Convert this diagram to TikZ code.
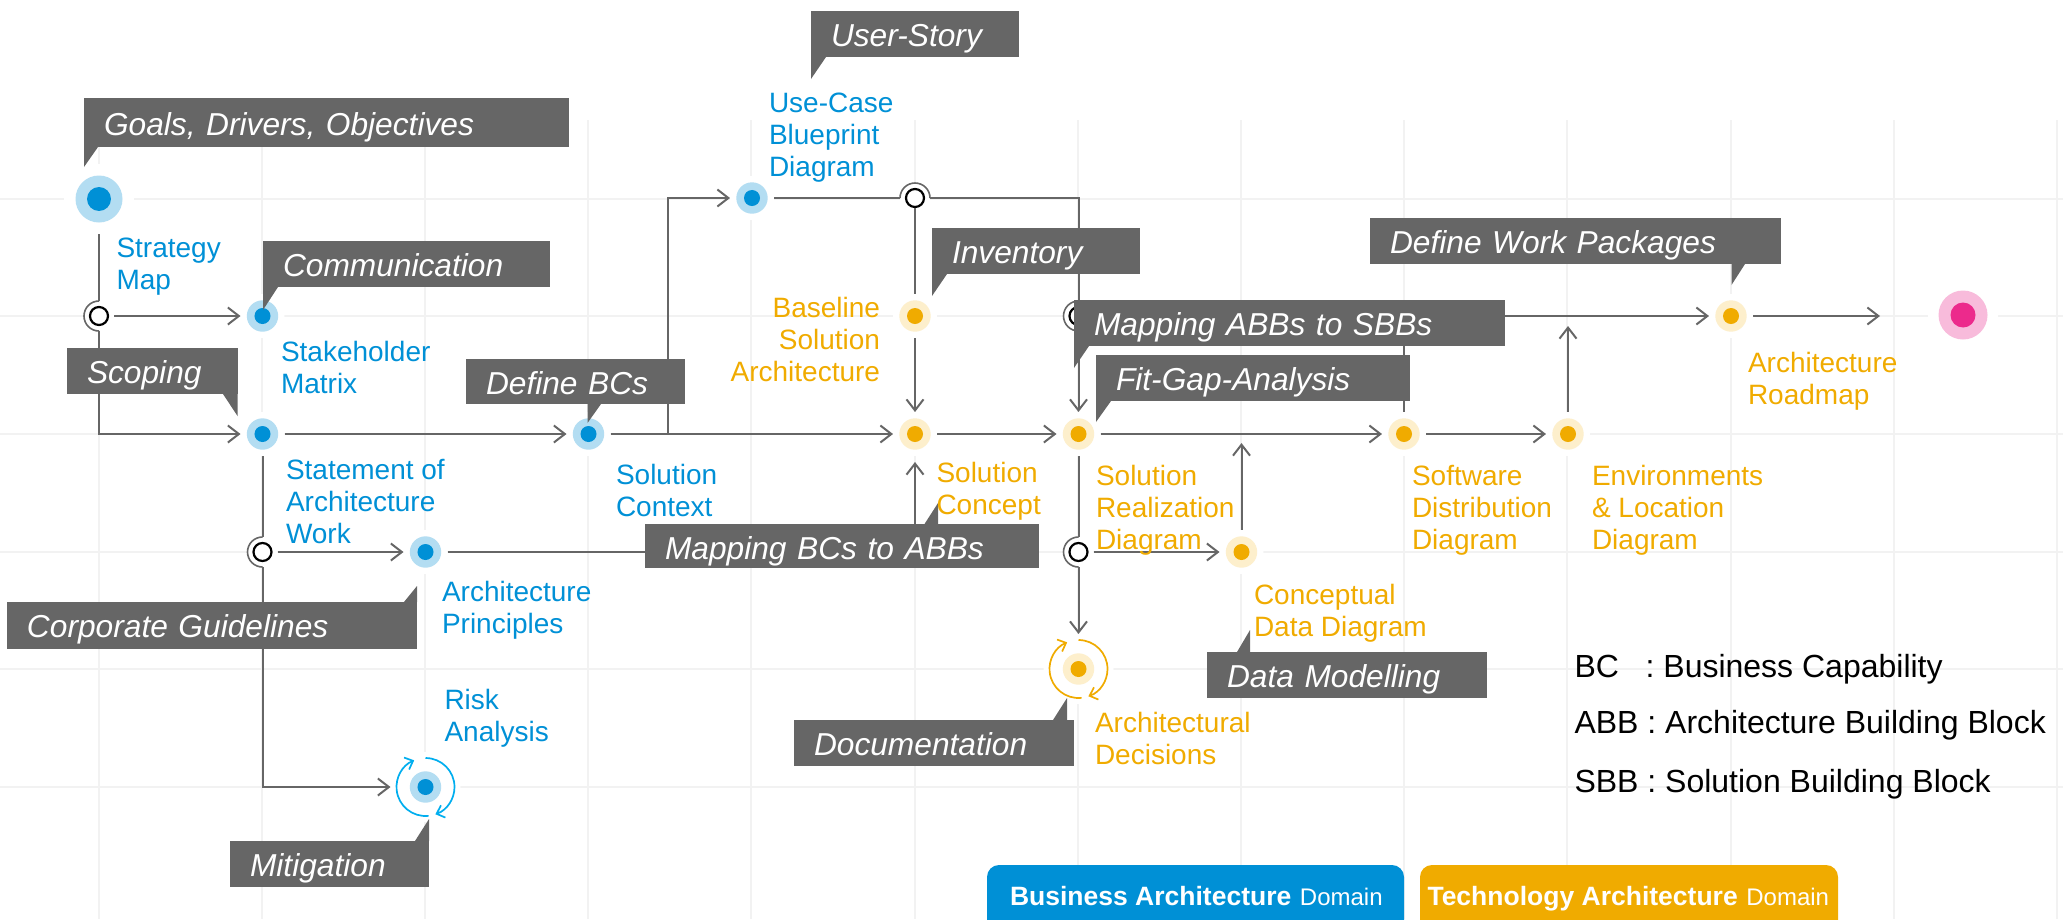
\documentclass[tikz,border=0pt]{standalone}
\usepackage{fontspec}
\setmainfont{Liberation Sans}
\usetikzlibrary{arrows.meta,calc}
\definecolor{gridc}{HTML}{F2F2F2}
\definecolor{conngray}{HTML}{666666}
\definecolor{bluei}{HTML}{0090D6}
\definecolor{blueo}{HTML}{B3DDF2}
\definecolor{orangei}{HTML}{F0AB00}
\definecolor{orangeo}{HTML}{FDEFCC}
\definecolor{pinki}{HTML}{EC2A8C}
\definecolor{pinko}{HTML}{F8BBDB}
\definecolor{cyanc}{HTML}{00AEEF}
\pgfdeclarelayer{gridlayer}
\pgfdeclarelayer{connlayer}
\pgfsetlayers{gridlayer,connlayer,main}
\newcommand{\callout}[7]{%
  \pgfmathsetmacro{\cbw}{#4-#2-40}%
  \pgfmathsetmacro{\cbd}{#5-#3-35}%
  \node[calloutbox,text width=\cbw pt,text depth=\cbd pt] (#1) at (#2,#3) {#6};
  \fill[conngray] #7 -- cycle;
}
\newcommand{\dotpic}[3]{%
  \fill[#1] (path picture bounding box.center) circle (#2);
  \fill[#3] (path picture bounding box.center) circle (#2*0.51);
}
\tikzset{
  gridline/.style={gridc,line width=1.5pt},
  conn/.style={conngray,line width=2pt},
  arr/.style={conn,-{Straight Barb[length=11pt,width=17pt]}},
  dotnode/.style={circle,inner sep=0pt,outer sep=0pt,minimum size=44pt,fill=white},
  bnode/.style={dotnode,path picture={\dotpic{blueo}{15.7pt}{bluei}}},
  onode/.style={dotnode,path picture={\dotpic{orangeo}{15.7pt}{orangei}}},
  snode/.style={dotnode,minimum size=70pt,path picture={\dotpic{blueo}{23.5pt}{bluei}}},
  pnode/.style={dotnode,minimum size=70pt,path picture={\dotpic{pinko}{24.5pt}{pinki}}},
  bcyc/.style={dotnode,minimum size=70pt,path picture={\dotpic{blueo}{15.7pt}{bluei}}},
  ocyc/.style={dotnode,minimum size=70pt,path picture={\dotpic{orangeo}{15.7pt}{orangei}}},
  jct/.style={circle,inner sep=0pt,outer sep=0pt,minimum size=30pt,fill=white},
  ringn/.style={circle,inner sep=0pt,minimum size=18pt,draw=black,fill=white,line width=2.2pt},
  lbl/.style={anchor=north west,inner sep=0pt,outer sep=0pt,align=left,yshift=22.4pt,font=\fontsize{28}{32}\selectfont},
  blab/.style={lbl,text=bluei},
  olab/.style={lbl,text=orangei},
  calloutbox/.style={anchor=north west,fill=conngray,text=white,inner xsep=20pt,inner ysep=0pt,outer sep=0pt,align=left,text height=35pt,font=\fontsize{31.7}{36}\selectfont\itshape},
  legendt/.style={anchor=base west,inner sep=0pt,outer sep=0pt,font=\fontsize{32}{36}\selectfont,text=black},
  domainbox/.style={anchor=north west,rounded corners=12pt,inner ysep=0pt,outer sep=0pt,text=white,text height=40pt,text depth=30pt,align=left},
  cyca/.style={line width=1.7pt,-{Straight Barb[length=7pt,width=13pt]}},
}
\begin{document}
\begin{tikzpicture}[x=1pt,y=-1pt]
\useasboundingbox (0,0) rectangle (2063,919);
% grid
\begin{pgfonlayer}{gridlayer}
\foreach \gx in {99,262,425,588,751,915,1078,1241,1404,1567,1731,1894,2057}
  \draw[gridline] (\gx,120) -- (\gx,919);
\foreach \gy in {199,316,434,552,669,787}
  \draw[gridline] (0,\gy) -- (2063,\gy);
\end{pgfonlayer}

% diagram nodes
\node[snode] (N1) at (99,199) {};
\node[bnode] (N2) at (262.5,316) {};
\node[bnode] (N3) at (262.5,434) {};
\node[bnode] (N4) at (588.5,434) {};
\node[bnode] (N5) at (752,198) {};
\node[onode] (N6) at (915,434) {};
\node[onode] (N7) at (1078.5,434) {};
\node[onode] (N8) at (915,316) {};
\node[onode] (N9) at (1404,434) {};
\node[onode] (N10) at (1568,434) {};
\node[ocyc] (N11) at (1078.5,669) {};
\node[onode] (N12) at (1241.5,552) {};
\node[onode] (N13) at (1731,316) {};
\node[bnode] (N14) at (425.5,552) {};
\node[bcyc] (N15) at (425.5,787) {};
\node[pnode] (End) at (1963,315) {};

% junctions
\node[jct] (J1) at (99,316) {};
\node[jct] (J2) at (915,198) {};
\node[jct] (J3) at (1078.5,316) {};
\node[jct] (J4) at (1078.5,552) {};
\node[jct] (J5) at (262.5,552) {};
\draw[conngray,line width=1.6pt] (J1.north) arc[start angle=90,end angle=270,radius=15pt];
\draw[conngray,line width=1.6pt] (J3.north) arc[start angle=90,end angle=270,radius=15pt];
\draw[conngray,line width=1.6pt] (J4.north) arc[start angle=90,end angle=270,radius=15pt];
\draw[conngray,line width=1.6pt] (J5.north) arc[start angle=90,end angle=270,radius=15pt];
\draw[conngray,line width=1.6pt] (J2.west) arc[start angle=180,end angle=0,radius=15pt];
\node[ringn] (R1) at (J1) {};
\node[ringn] (R2) at (J2) {};
\node[ringn] (R3) at (J3) {};
\node[ringn] (R4) at (J4) {};
\node[ringn] (R5) at (J5) {};

% free ends
\coordinate (B1) at (668,434);
\coordinate (T1) at (1404,316);
\coordinate (U1) at (1568,326);
\coordinate (U2) at (1241.5,443);

% connectors
\begin{pgfonlayer}{connlayer}
\draw[arr] (N1) |- (N3);
\draw[arr] (J1) -- (N2);
\draw[arr] (N3) -- (N4);
\draw[arr] (N3) |- (N15);
\draw[arr] (J5) -- (N14);
\draw[arr,shorten >=6pt] (N14) -| (N6);
\draw[arr] (N4) -- (N6);
\draw[arr] (B1) |- (N5);
\draw[arr] (N5) -| (N7);
\draw[arr] (N8) -- (N6);
\draw[arr] (N6) -- (N7);
\draw[arr] (N7) -- (N9);
\draw[arr] (N9) -- (N10);
\draw[conn] (N9) -- (T1);
\draw[arr] (N10) -- (U1);
\draw[arr] (J3) -- (N13);
\draw[arr,shorten >=83pt] (N13) -- (N13 -| End);
\draw[arr] (N7) -- (N11);
\draw[arr] (J4) -- (N12);
\draw[arr] (N12) -- (U2);
\end{pgfonlayer}
\draw[conn] (R2) -- (N8);

% cycle arrows
\draw[cyca,cyanc] ($(N15)+(276:29pt)$) arc[start angle=276,end angle=113,radius=29pt];
\draw[cyca,cyanc] ($(N15)+(90:29pt)$) arc[start angle=90,end angle=-70,radius=29pt];
\draw[cyca,orangei] ($(N11)+(276:29pt)$) arc[start angle=276,end angle=113,radius=29pt];
\draw[cyca,orangei] ($(N11)+(90:29pt)$) arc[start angle=90,end angle=-70,radius=29pt];

% callouts
\node[calloutbox,text width=445pt,text height=37pt,text depth=12pt] (cGoals) at (84,98) {Goals, Drivers, Objectives};
\fill[conngray] (84,147) -- (84,167) -- (98,147) -- cycle;
\callout{cComm}{263}{241}{550}{287}{Communication}{(263,287) -- (263,310) -- (278,287)}
\callout{cScope}{67}{348}{237.5}{394}{Scoping}{(223,394) -- (237.5,416) -- (237.5,394)}
\callout{cBCs}{466}{359}{685}{404}{Define BCs}{(587.5,404) -- (587.5,423) -- (601,404)}
\callout{cUser}{811}{11}{1019}{57}{User-Story}{(811,57) -- (811,79) -- (826,57)}
\callout{cInv}{932}{228}{1140}{274}{Inventory}{(932,274) -- (932,296) -- (947,274)}
\callout{cMapS}{1074}{300}{1505}{346}{Mapping ABBs to SBBs}{(1074,346) -- (1074,368) -- (1089,346)}
\callout{cFit}{1096}{355}{1410}{401}{Fit-Gap-Analysis}{(1096,401) -- (1096,422) -- (1111,401)}
\callout{cWork}{1370}{218}{1781}{264}{Define Work Packages}{(1731.5,264) -- (1731.5,285) -- (1745,264)}
\callout{cMapA}{645}{524}{1039}{568}{Mapping BCs to ABBs}{(924.5,524) -- (938,503) -- (938,524)}
\callout{cCorp}{7}{602}{417}{649}{Corporate Guidelines}{(404,602) -- (417,586) -- (417,602)}
\callout{cMit}{230}{841}{429}{887}{Mitigation}{(415,841) -- (429,819) -- (429,841)}
\callout{cDoc}{794}{720}{1074}{766}{Documentation}{(1053,720) -- (1067,698) -- (1067,720)}
\callout{cData}{1207}{652}{1487}{698}{Data Modelling}{(1237,652) -- (1250,630) -- (1250,652)}

% labels
\node[blab] (lStrategy) at (116.5,257) {\strut Strategy\\Map};
\node[blab] (lStake) at (281,361) {\strut Stakeholder\\Matrix};
\node[blab] (lState) at (286,479) {\strut Statement of\\Architecture\\Work};
\node[blab] (lContext) at (616,484) {\strut Solution\\Context};
\node[blab] (lPrin) at (442,601) {\strut Architecture\\Principles};
\node[blab] (lRisk) at (444.5,709) {\strut Risk\\Analysis};
\node[blab] (lUse) at (769,112) {\strut Use-Case\\Blueprint\\Diagram};
\node[olab,anchor=north east,align=right] (lBase) at (880,317) {\strut Baseline\\Solution\\Architecture};
\node[olab] (lConcept) at (936.5,482) {\strut Solution\\Concept};
\node[olab] (lReal) at (1096,485) {\strut Solution\\Realization\\Diagram};
\node[olab] (lData) at (1254,604) {\strut Conceptual\\Data Diagram};
\node[olab] (lDec) at (1095,732) {\strut Architectural\\Decisions};
\node[olab] (lSoft) at (1412,485) {\strut Software\\Distribution\\Diagram};
\node[olab] (lEnv) at (1592,485) {\strut Environments\\\& Location\\Diagram};
\node[olab] (lRoad) at (1748,372) {\strut Architecture\\Roadmap};

% legend
\node[legendt] (k1) at (1574.5,677) {BC\ \ \ : Business Capability};
\node[legendt] (k2) at (1574.5,733) {ABB : Architecture Building Block};
\node[legendt] (k3) at (1574.5,792) {SBB : Solution Building Block};

% domains
\node[domainbox,fill=bluei,inner xsep=23pt,text width=371pt] (dBus) at (987,865) {\mbox{\fontsize{26.5}{30}\selectfont\bfseries Business\hspace{7.4pt}Architecture\hspace{8.6pt}\fontsize{24}{30}\selectfont\mdseries Domain}};
\node[domainbox,fill=orangei,inner xsep=7.5pt,text width=403pt] (dTech) at (1420,865) {\mbox{\fontsize{26.5}{30}\selectfont\bfseries Technology\hspace{7.4pt}Architecture\hspace{8.6pt}\fontsize{24}{30}\selectfont\mdseries Domain}};
\end{tikzpicture}
\end{document}
